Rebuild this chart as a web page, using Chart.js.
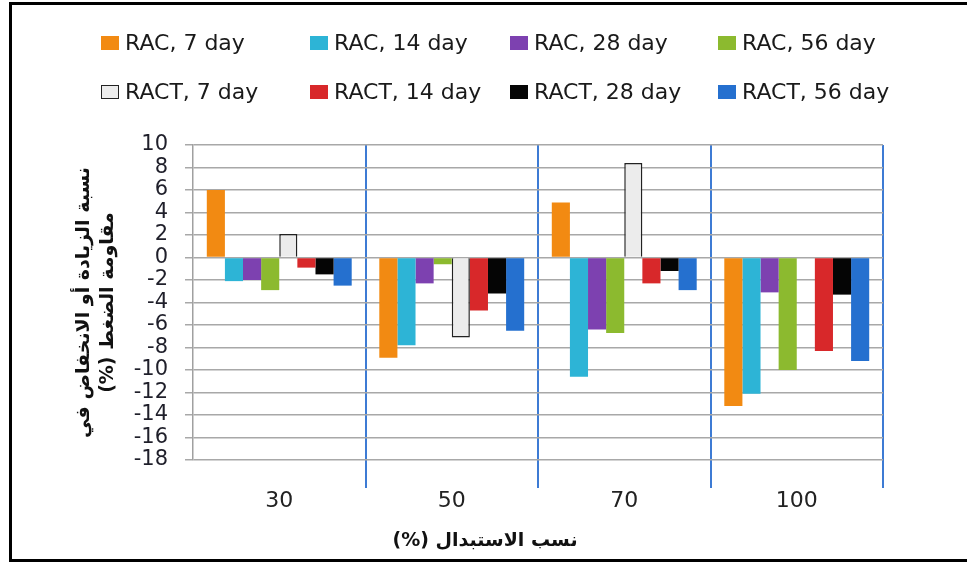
<!DOCTYPE html>
<html>
<head>
<meta charset="utf-8">
<script src="https://cdn.jsdelivr.net/npm/chart.js@4.4.1/dist/chart.umd.min.js"></script>
<style>
  html, body { margin: 0; overflow: hidden; }
  body { width: 967px; height: 565px; background: #fff; font-family: 'DejaVu Sans', sans-serif; position: relative; }
  #frame { position: absolute; left: 9px; top: 2px; width: 1000px; height: 560px; border-left: 3px solid #000; border-top: 3px solid #000; border-bottom: 3px solid #000; box-sizing: border-box; }
  #chart { position: absolute; left: 0; top: 0; }
  .lg { position: absolute; display: flex; align-items: center; font-size: 22px; color: #1a1a1a; white-space: nowrap; }
  .lg i { display: inline-block; width: 18px; height: 14px; margin-right: 6px; box-sizing: border-box; }
  #xtitle { position: absolute; left: 380px; top: 528px; width: 210px; text-align: center; font-weight: bold; font-size: 19px; color: #111; }
</style>
</head>
<body>
<div id="frame"></div>
<canvas id="chart" width="967" height="565"></canvas>
<div id="legend"></div>
<div id="xtitle" dir="rtl">نسب الاستبدال (%)</div>
<script>
// replacement ratio categories
const categories = ['30', '50', '70', '100'];

const rac7   = [6.0, -8.9, 4.9, -13.2];
const rac14  = [-2.1, -7.8, -10.6, -12.1];
const rac28  = [-2.0, -2.3, -6.4, -3.1];
const rac56  = [-2.9, -0.6, -6.7, -10.0];
const ract7  = [2.1, -7.1, 8.4, null];
const ract14 = [-0.9, -4.7, -2.3, -8.3];
const ract28 = [-1.5, -3.2, -1.2, -3.3];
const ract56 = [-2.5, -6.5, -2.9, -9.2];

const yTitle = ['نسبة الزيادة أو الانخفاض في', 'مقاومة الضغط (%)\u200F'];

// legend grid positions (px)
const legendX = [101, 310, 510, 718];
const legendY = [30, 79];

const series = [
  { label: 'RAC, 7 day',   data: rac7,   color: '#f28a12' },
  { label: 'RAC, 14 day',  data: rac14,  color: '#2db4d6' },
  { label: 'RAC, 28 day',  data: rac28,  color: '#7d41b0' },
  { label: 'RAC, 56 day',  data: rac56,  color: '#8cba2f' },
  { label: 'RACT, 7 day',  data: ract7,  color: '#ececec', border: '#222' },
  { label: 'RACT, 14 day', data: ract14, color: '#d8282a' },
  { label: 'RACT, 28 day', data: ract28, color: '#050505' },
  { label: 'RACT, 56 day', data: ract56, color: '#2570cf' }
];

const chart = new Chart(document.getElementById('chart').getContext('2d'), {
  type: 'bar',
  data: {
    labels: categories,
    datasets: series.map(s => ({
      label: s.label,
      data: s.data,
      backgroundColor: s.color,
      borderColor: s.border || s.color,
      borderWidth: s.border ? 1.5 : 0,
      categoryPercentage: 0.84,
      barPercentage: 1
    }))
  },
  options: {
    responsive: false,
    animation: false,
    layout: { autoPadding: false, padding: { top: 145, right: 84, left: 0, bottom: 0 } },
    plugins: { legend: { display: false }, tooltip: { enabled: false } },
    scales: {
      x: {
        grid: {
          offset: true,
          color: c => c.index === 0 ? 'rgba(0,0,0,0)' : '#3d7bd4',
          lineWidth: 2,
          tickLength: 28
        },
        border: { display: false },
        ticks: { color: '#222', padding: 0, font: { family: 'DejaVu Sans', size: 22 } },
        afterFit: s => { s.height = 105; }
      },
      y: {
        min: -18, max: 10,
        ticks: { stepSize: 2, autoSkip: false, color: '#1f1f2a', padding: 17, font: { family: 'DejaVu Sans', size: 21, lineHeight: 1 } },
        grid: { color: '#a8a8a8', lineWidth: 1.5, tickLength: 8 },
        border: { color: '#a0a0a0', width: 1.5 },
        title: {
          display: true,
          text: yTitle,
          color: '#111',
          padding: { top: 72, bottom: 0 },
          font: { family: 'DejaVu Sans', size: 19, weight: 'bold', lineHeight: 1.25 }
        },
        afterFit: s => { s.width = 193; }
      }
    }
  }
});

// legend laid out as a 4x2 grid, built from the chart datasets
const lg = document.getElementById('legend');
chart.data.datasets.forEach((ds, i) => {
  const el = document.createElement('div');
  el.className = 'lg';
  el.style.left = legendX[i % 4] + 'px';
  el.style.top = legendY[Math.floor(i / 4)] + 'px';
  const box = document.createElement('i');
  box.style.background = ds.backgroundColor;
  if (ds.borderWidth) box.style.border = '1.5px solid ' + ds.borderColor;
  el.appendChild(box);
  el.appendChild(document.createTextNode(ds.label));
  lg.appendChild(el);
});
</script>
</body>
</html>
